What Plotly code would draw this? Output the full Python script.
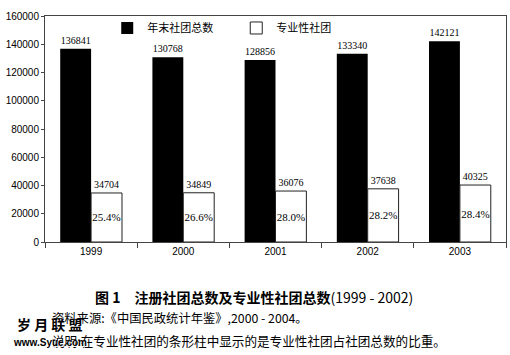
import plotly.graph_objects as go

years = ["1999", "2000", "2001", "2002", "2003"]
total_societies = [136841, 130768, 128856, 133340, 142121]
professional_societies = [34704, 34849, 36076, 37638, 40325]
professional_share = ["25.4%", "26.6%", "28.0%", "28.2%", "28.4%"]
y_ticks = [0, 20000, 40000, 60000, 80000, 100000, 120000, 140000, 160000]

name_total = "年末社团总数"
name_prof = "专业性社团"
title_text = "<b>图 1　注册社团总数及专业性社团总数</b>(1999 - 2002)"
source_text = "资料来源:《中国民政统计年鉴》,2000 - 2004。"
note_text = "说明:在专业性社团的条形柱中显示的是专业性社团占社团总数的比重。"

SERIF = "Liberation Serif, Times New Roman, serif"
SANS = "Liberation Sans, Arial, sans-serif"
CJK = "Noto Sans CJK SC, sans-serif"

fig = go.Figure()
fig.add_trace(go.Bar(
    x=years, y=total_societies, name=name_total, offsetgroup="a",
    marker=dict(color="#000000", line=dict(width=0)),
    text=[str(v) for v in total_societies], textposition="outside",
    textangle=0,
    textfont=dict(family=SERIF, size=10, color="#000"),
    constraintext="none", cliponaxis=False,
))
fig.add_trace(go.Bar(
    x=years, y=professional_societies, name=name_prof, offsetgroup="b",
    marker=dict(color="#ffffff", line=dict(width=1, color="#222")),
    text=[str(v) for v in professional_societies], textposition="outside",
    textangle=0,
    textfont=dict(family=SERIF, size=10, color="#000"),
    constraintext="none", cliponaxis=False,
))
fig.add_trace(go.Bar(
    x=years, y=professional_societies, name="share", offsetgroup="b",
    showlegend=False, hoverinfo="skip",
    marker=dict(color="rgba(0,0,0,0)", line=dict(width=0)),
    text=professional_share, textposition="inside", insidetextanchor="middle",
    textangle=0,
    textfont=dict(family=SERIF, size=11, color="#000"),
    constraintext="none",
))

fig.update_layout(
    width=510, height=355,
    margin=dict(l=45, r=4, t=16, b=113),
    paper_bgcolor="white", plot_bgcolor="white",
    barmode="group", bargap=0.33, bargroupgap=0,
    showlegend=True,
    legend=dict(
        orientation="h", x=0.135, xanchor="left", y=0.947, yanchor="middle",
        font=dict(family=CJK, size=11, color="#000"),
        bgcolor="rgba(0,0,0,0)", entrywidth=84, entrywidthmode="pixels",
        itemwidth=30, traceorder="normal",
    ),
    font=dict(family=SANS, size=10, color="#000"),
)
fig.update_xaxes(
    showline=True, linecolor="#444", linewidth=1, mirror=True,
    ticks="outside", tickson="boundaries", ticklen=5, tickcolor="#444",
    tickfont=dict(family=SANS, size=10, color="#000"), showgrid=False,
    automargin=False,
)
fig.update_yaxes(
    range=[0, 160000], tickvals=y_ticks, ticktext=[str(v) for v in y_ticks],
    showline=True, linecolor="#444", linewidth=1, mirror=True,
    ticks="outside", ticklen=3, tickcolor="#444", showgrid=False, zeroline=False,
    tickfont=dict(family=SANS, size=10, color="#000"), automargin=False,
)

fig.add_annotation(text=title_text, xref="paper", yref="paper", x=0.453, y=-0.243,
                   xanchor="center", yanchor="middle", showarrow=False,
                   font=dict(family=CJK, size=14, color="#000"))
fig.add_annotation(text=source_text, xref="paper", yref="paper", x=0.011, y=-0.336,
                   xanchor="left", yanchor="middle", showarrow=False,
                   font=dict(family=CJK, size=12.3, color="#000"))
fig.add_annotation(text=note_text, xref="paper", yref="paper", x=0.011, y=-0.434,
                   xanchor="left", yanchor="middle", showarrow=False,
                   font=dict(family=CJK, size=12.6, color="#000"))
fig.add_annotation(text="<b>岁 月 联 盟</b>", xref="paper", yref="paper", x=0.011, y=-0.365,
                   xanchor="center", yanchor="middle", showarrow=False,
                   font=dict(family=CJK, size=14, color="#000", shadow="1px 1px 0 #fff"))
fig.add_annotation(text="<b>www.Syue.com</b>", xref="paper", yref="paper", x=0.011, y=-0.445,
                   xanchor="center", yanchor="middle", showarrow=False,
                   font=dict(family=SANS, size=10, color="#000", shadow="1px 1px 0 #fff"))

fig.write_html("out.html", config={"displayModeBar": False},
               post_script="document.body.style.margin='0';")
